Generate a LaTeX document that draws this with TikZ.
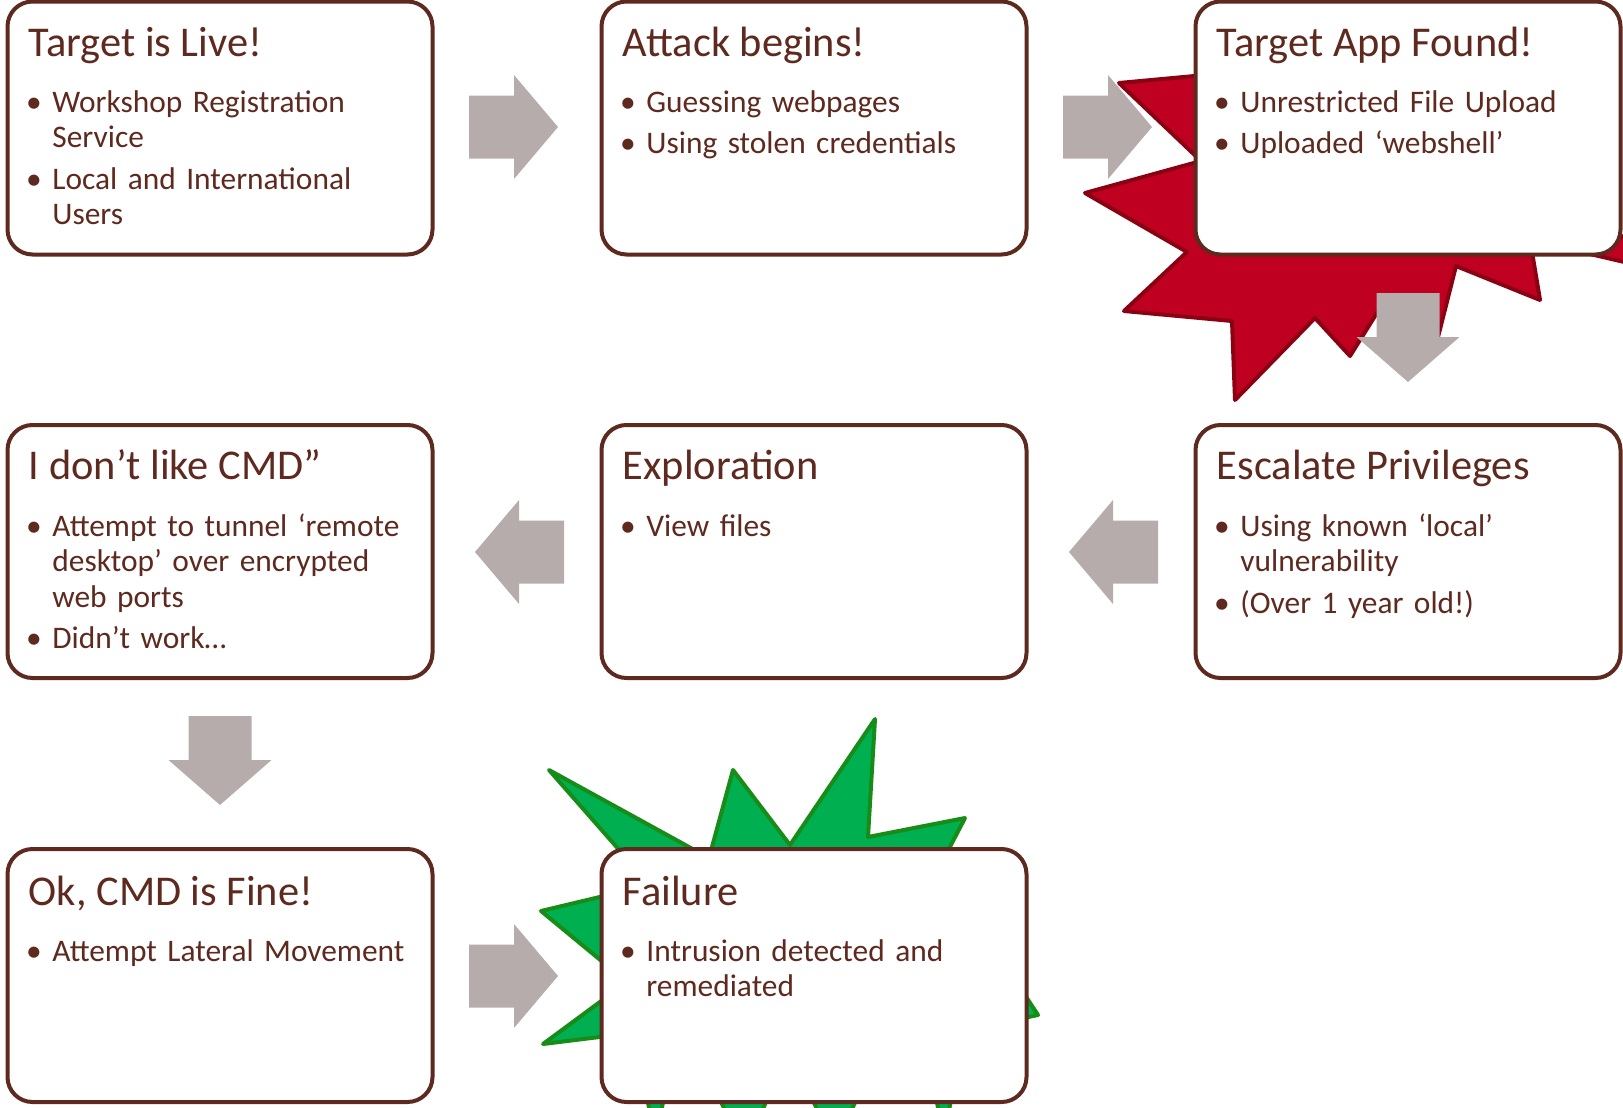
\documentclass[tikz,border=0pt]{standalone}
\usepackage{fontspec}
\setmainfont{Carlito}
\usetikzlibrary{calc}
\definecolor{brn}{RGB}{94,41,31}
\definecolor{agray}{RGB}{182,172,172}
\definecolor{rfill}{RGB}{192,0,32}
\definecolor{rline}{RGB}{140,0,20}
\definecolor{gfill}{RGB}{0,176,80}
\definecolor{gline}{RGB}{24,140,24}
\tikzset{
  box/.style={draw=brn, line width=2pt, fill=white, rounded corners=12.5pt,
    minimum width=212.5pt, minimum height=126.5pt, inner sep=0pt, outer sep=0pt, anchor=north west},
  ttl/.style={text=brn, font=\fontsize{21.2pt}{24pt}\selectfont, inner sep=0pt, anchor=base west},
  btext/.style={text=brn, font=\fontsize{15.7pt}{17.85pt}\selectfont, inner sep=0pt,
    text width=195pt, align=left, anchor=base west},
  bdot/.style={text=brn, font=\fontsize{15.7pt}{17.85pt}\selectfont, inner sep=0pt, anchor=base},
  arrowfill/.style={fill=agray},
  redstar/.style={fill=rfill, draw=rline, line width=2pt, line join=round},
  greenstar/.style={fill=gfill, draw=gline, line width=2pt, line join=round}
}
\newcommand\rarrow[2]{\fill[arrowfill, shift={(#1,#2)}] (0,-31.5) -- (45,-31.5) -- (45,-52) -- (89,0) -- (45,52) -- (45,31.5) -- (0,31.5) -- cycle;}
\newcommand\larrow[2]{\fill[arrowfill, shift={(#1,#2)}, xscale=-1] (0,-31.5) -- (45,-31.5) -- (45,-52) -- (89,0) -- (45,52) -- (45,31.5) -- (0,31.5) -- cycle;}
\newcommand\darrow[2]{\fill[arrowfill, shift={(#1,#2)}] (-31.5,0) -- (31.5,0) -- (31.5,44) -- (51.5,44) -- (0,89) -- (-51.5,44) -- (-31.5,44) -- cycle;}
\newcommand\bul[4]{%
  \node[bdot] (#1d) at ($(#2.north west)+(26.5,#3)$) {•};
  \node[btext] (#1) at ($(#2.north west)+(44.5,#3)$) {#4};}
\begin{document}
\begin{tikzpicture}[x=0.5pt,y=-0.5pt]
\useasboundingbox (0,0) rectangle (1623,1108);
\begin{scope}
\clip (0,0) rectangle (1623,1108);
% red burst
\draw[redstar] (1119,83) -- (1201,161) -- (1085,193) -- (1187,252) -- (1124,311) -- (1232,321)
  -- (1235,400) -- (1315,318) -- (1350,356) -- (1385,300) -- (1436,345) -- (1456,266)
  -- (1540,300) -- (1530,240) -- (1680,275) -- (1590,215) -- (1600,40) -- (1500,120)
  -- (1420,30) -- (1350,110) -- (1280,30) -- (1270,69) -- cycle;
% green burst
\draw[greenstar] (549,770) -- (709,858) -- (733,770) -- (790,845) -- (875,719) -- (868,837)
  -- (965,818) -- (940,866) -- (1038,1015) -- (980,1027) -- (955,1080) -- (944,1135)
  -- (932,1080) -- (868,1075) -- (835,1145) -- (800,1075) -- (780,1070) -- (745,1150)
  -- (705,1070) -- (668,1075) -- (656,1140) -- (642,1075) -- (640,1032) -- (543,1044)
  -- (627,982) -- (541,911) -- (650,885) -- cycle;
\end{scope}
% block arrows
\rarrow{469}{127}
\rarrow{1063}{127}
\darrow{1408}{293}
\larrow{1158}{552}
\larrow{564}{552}
\darrow{220}{716}
\rarrow{469}{976}
% boxes
\node[box] (b1) at (7.5,1.5) {};
\node[box] (b2) at (601.5,1.5) {};
\node[box] (b3) at (1195.5,1.5) {};
\node[box] (b4) at (7.5,425) {};
\node[box] (b5) at (601.5,425) {};
\node[box] (b6) at (1195.5,425) {};
\node[box] (b7) at (7.5,849) {};
\node[box] (b8) at (601.5,849) {};
% titles
\node[ttl] (t1) at ($(b1.north west)+(21,54.5)$) {Target is Live!};
\node[ttl] (t2) at ($(b2.north west)+(21,54.5)$) {Attack begins!};
\node[ttl] (t3) at ($(b3.north west)+(21,54.5)$) {Target App Found!};
\node[ttl] (t4) at ($(b4.north west)+(21,54.5)$) {I don’t like CMD”};
\node[ttl] (t5) at ($(b5.north west)+(21,54.5)$) {Exploration};
\node[ttl] (t6) at ($(b6.north west)+(21,54.5)$) {Escalate Privileges};
\node[ttl] (t7) at ($(b7.north west)+(21,56)$) {Ok, CMD is Fine!};
\node[ttl] (t8) at ($(b8.north west)+(21,56)$) {Failure};
% bullets
\bul{p1a}{b1}{110.5}{Workshop Registration\\Service}
\bul{p1b}{b1}{187.7}{Local and International\\Users}
\bul{p2a}{b2}{110.5}{Guessing webpages}
\bul{p2b}{b2}{152}{Using stolen credentials}
\bul{p3a}{b3}{110.5}{Unrestricted File Upload}
\bul{p3b}{b3}{152}{Uploaded ‘webshell’}
\bul{p4a}{b4}{111}{Attempt to tunnel ‘remote\\desktop’ over encrypted\\web ports}
\bul{p4b}{b4}{223.9}{Didn’t work…}
\bul{p5a}{b5}{111}{View files}
\bul{p6a}{b6}{111}{Using known ‘local’\\vulnerability}
\bul{p6b}{b6}{188.2}{(Over 1 year old!)}
\bul{p7a}{b7}{112}{Attempt Lateral Movement}
\bul{p8a}{b8}{112}{Intrusion detected and\\remediated}
\end{tikzpicture}
\end{document}
